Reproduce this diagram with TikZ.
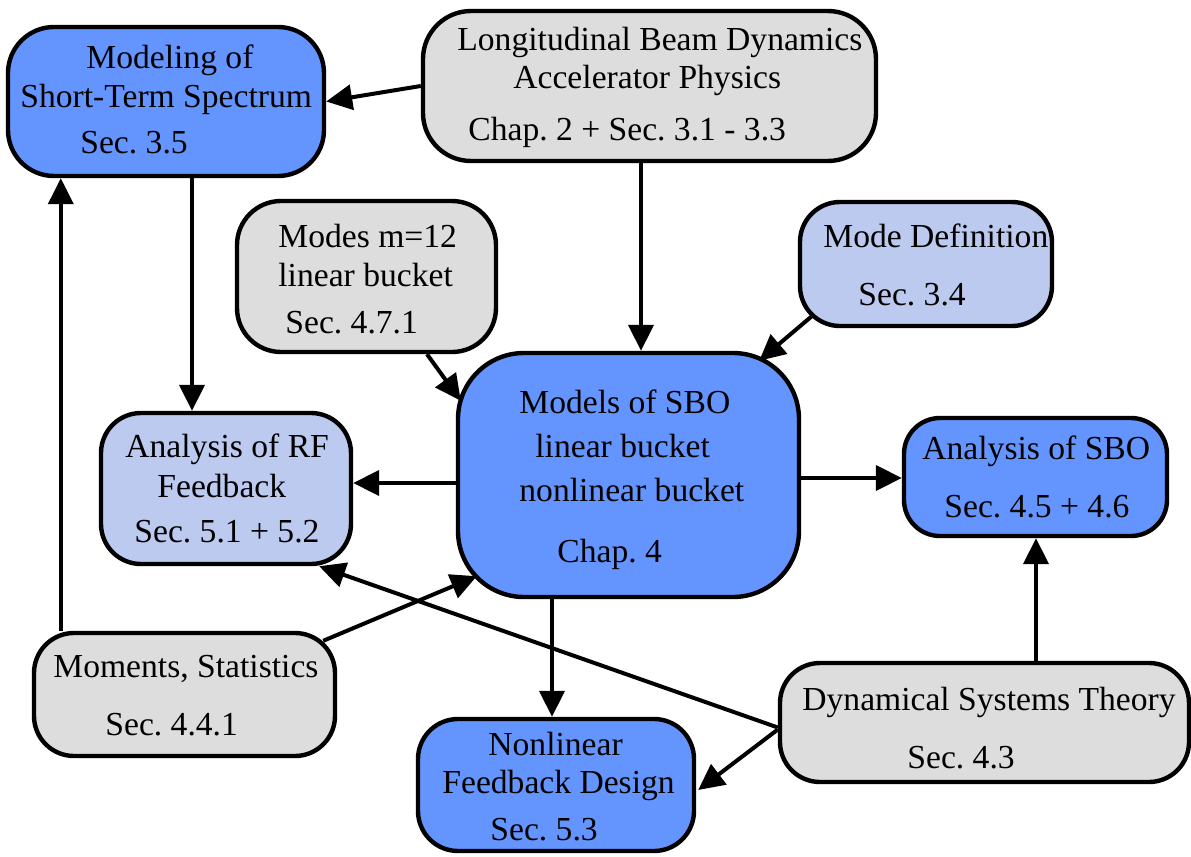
\documentclass[tikz,border=0pt]{standalone}
\usepackage{fontspec}
\setmainfont{Liberation Serif}
\usetikzlibrary{arrows.meta,calc}
\definecolor{dblue}{RGB}{100,149,255}
\definecolor{lblue}{RGB}{188,202,240}
\definecolor{lgray}{RGB}{221,221,221}
\frenchspacing
\begin{document}
\begin{tikzpicture}[x=0.5pt,y=-0.5pt,
 bx/.style={draw, line width=2.2pt, inner sep=0pt, rectangle},
 lbl/.style={anchor=base west, inner sep=0pt, font=\fontsize{16.8}{20}\selectfont},
 arr/.style={line width=2pt, -{Triangle[length=13pt,width=12.5pt]}}]
\useasboundingbox (0,0) rectangle (1191,857);
% boxes
\node[bx, fill=dblue, rounded corners=23pt, minimum width=158pt, minimum height=74.5pt] (mst) at (166,101.5) {};
\node[bx, fill=lgray, rounded corners=24pt, minimum width=226.5pt, minimum height=75pt] (lbd) at (649.5,86) {};
\node[bx, fill=lgray, rounded corners=22pt, minimum width=129.5pt, minimum height=75.5pt] (m12) at (366.5,276.5) {};
\node[bx, fill=lblue, rounded corners=20pt, minimum width=126pt, minimum height=62pt] (mdef) at (926,264) {};
\node[bx, fill=dblue, rounded corners=33pt, minimum width=170.5pt, minimum height=122pt] (mod) at (628.5,475) {};
\node[bx, fill=lblue, rounded corners=20pt, minimum width=125pt, minimum height=75.5pt] (arf) at (226,488.5) {};
\node[bx, fill=dblue, rounded corners=18pt, minimum width=131.5pt, minimum height=59pt] (asbo) at (1035.5,477) {};
\node[bx, fill=lgray, rounded corners=20pt, minimum width=150.5pt, minimum height=61.5pt] (mom) at (184.5,694.5) {};
\node[bx, fill=lgray, rounded corners=20pt, minimum width=204.5pt, minimum height=59.5pt] (dst) at (984.5,722.5) {};
\node[bx, fill=dblue, rounded corners=20pt, minimum width=138pt, minimum height=66pt] (nfd) at (556,785) {};
% texts
\node[lbl] (t1a) at (86,68) {Modeling of};
\node[lbl] (t1b) at (20,107) {Short-Term Spectrum};
\node[lbl] (t1c) at (80,153) {Sec. 3.5};
\node[lbl] (t2a) at (457,50) {Longitudinal Beam Dynamics};
\node[lbl] (t2b) at (513,88) {Accelerator Physics};
\node[lbl] (t2c) at (468,140) {Chap. 2 + Sec. 3.1 - 3.3};
\node[lbl] (t3a) at (278,247) {Modes m=12};
\node[lbl] (t3b) at (278,286) {linear bucket};
\node[lbl] (t3c) at (285,333) {Sec. 4.7.1};
\node[lbl] (t4a) at (823,247) {Mode Definition};
\node[lbl] (t4b) at (858,305) {Sec. 3.4};
\node[lbl] (t5a) at (519,413) {Models of SBO};
\node[lbl] (t5b) at (535,457) {linear bucket};
\node[lbl] (t5c) at (519,501) {nonlinear bucket};
\node[lbl] (t5d) at (557,562) {Chap. 4};
\node[lbl] (t6a) at (125,457) {Analysis of RF};
\node[lbl] (t6b) at (157,497) {Feedback};
\node[lbl] (t6c) at (134,542) {Sec. 5.1 + 5.2};
\node[lbl] (t7a) at (922,459) {Analysis of SBO};
\node[lbl] (t7b) at (944,517) {Sec. 4.5 + 4.6};
\node[lbl] (t8a) at (53,677) {Moments, Statistics};
\node[lbl] (t8b) at (105,735) {Sec. 4.4.1};
\node[lbl] (t9a) at (802,710) {Dynamical Systems Theory};
\node[lbl] (t9b) at (907,768) {Sec. 4.3};
\node[lbl] (t10a) at (488,755) {Nonlinear};
\node[lbl] (t10b) at (442,793) {Feedback Design};
\node[lbl] (t10c) at (490,840) {Sec. 5.3};
% connectors
\draw[arr] (lbd.west) -- (mst.east);
\draw[arr] ($(lbd.south)+(-8.5,0)$) -- ($(mod.north)+(12.5,0)$);
\draw[arr] ($(mst.south)+(26,0)$) -- ($(arf.north)+(-34,0)$);
\draw[arr] ($(m12.south)+(60.5,0)$) -- ($(mod.north west)+(5,50)$);
\draw[arr] ($(mdef.south west)+(14,-12)$) -- ($(mod.north east)+(-42,10)$);
\draw[arr] ($(mod.west)+(0,8)$) -- ($(arf.east)+(0,-5.5)$);
\draw[arr] ($(mod.east)+(0,3)$) -- ($(asbo.west)+(0,1)$);
\draw[arr] ($(mod.south)+(-76.5,0)$) -- ($(nfd.north)+(-4,0)$);
\draw[arr] ($(mom.north west)+(29,0)$) -- ($(mst.south west)+(55,0)$);
\draw[arr] ($(mom.north east)+(-14,10)$) -- ($(mod.south west)+(21,-23)$);
\draw[arr] ($(dst.west)+(0,5)$) -- ($(arf.south east)+(-34,0)$);
\draw[arr] ($(dst.west)+(0,7)$) -- ($(nfd.east)+(2,5)$);
\draw[arr] ($(dst.north)+(51.5,0)$) -- ($(asbo.south)+(0.5,0)$);
\end{tikzpicture}
\end{document}
